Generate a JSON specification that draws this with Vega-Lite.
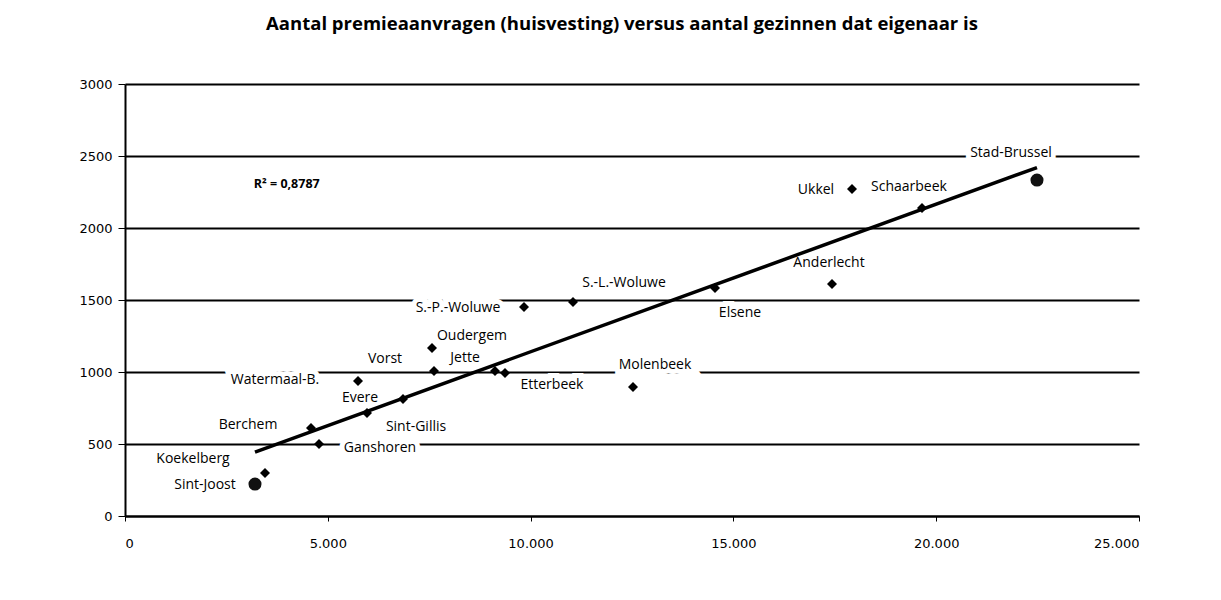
{
  "$schema": "https://vega.github.io/schema/vega-lite/v6.json",
  "width": 1014,
  "height": 432,
  "autosize": "none",
  "padding": {"left": 125, "top": 84, "right": 82, "bottom": 84},
  "background": "white",
  "title": {
    "text": "Aantal premieaanvragen (huisvesting) versus aantal gezinnen dat eigenaar is",
    "font": "Open Sans",
    "fontSize": 18.5,
    "fontWeight": "bold",
    "color": "black",
    "anchor": "middle",
    "offset": 45,
    "dx": -10
  },
  "config": {
    "view": {"stroke": null},
    "font": "Open Sans"
  },
  "data": {
    "values": [
      {"name": "Stad-Brussel", "x": 22485, "y": 2333, "lx": 21844, "ly": 2521, "big": true},
      {"name": "Ukkel", "x": 17924, "y": 2271, "lx": 17036, "ly": 2264, "big": false},
      {"name": "Schaarbeek", "x": 19650, "y": 2139, "lx": 19329, "ly": 2285, "big": false},
      {"name": "Anderlecht", "x": 17431, "y": 1611, "lx": 17357, "ly": 1757, "big": false},
      {"name": "Elsene", "x": 14546, "y": 1583, "lx": 15163, "ly": 1410, "big": false},
      {"name": "S.-L.-Woluwe", "x": 11045, "y": 1486, "lx": 12303, "ly": 1618, "big": false},
      {"name": "S.-P.-Woluwe", "x": 9837, "y": 1451, "lx": 8210, "ly": 1444, "big": false},
      {"name": "Oudergem", "x": 7569, "y": 1167, "lx": 8555, "ly": 1250, "big": false},
      {"name": "Vorst", "x": 7618, "y": 1007, "lx": 6410, "ly": 1090, "big": false},
      {"name": "Jette", "x": 9122, "y": 1007, "lx": 8383, "ly": 1097, "big": false},
      {"name": "Etterbeek", "x": 9369, "y": 993, "lx": 10527, "ly": 910, "big": false},
      {"name": "Molenbeek", "x": 12525, "y": 896, "lx": 13067, "ly": 1049, "big": false},
      {"name": "Watermaal-B.", "x": 5745, "y": 938, "lx": 3698, "ly": 944, "big": false},
      {"name": "Evere", "x": 5966, "y": 715, "lx": 5794, "ly": 819, "big": false},
      {"name": "Sint-Gillis", "x": 6854, "y": 813, "lx": 7175, "ly": 618, "big": false},
      {"name": "Berchem", "x": 4586, "y": 611, "lx": 3033, "ly": 632, "big": false},
      {"name": "Ganshoren", "x": 4783, "y": 500, "lx": 6287, "ly": 472, "big": false},
      {"name": "Koekelberg", "x": 3452, "y": 299, "lx": 1677, "ly": 396, "big": false},
      {"name": "Sint-Joost", "x": 3205, "y": 222, "lx": 1972, "ly": 215, "big": true}
    ]
  },
  "layer": [
    {
      "mark": {"type": "text", "align": "center", "baseline": "middle", "fontSize": 14, "stroke": "white", "strokeWidth": 10, "fill": "white"},
      "encoding": {
        "x": {
          "field": "lx", "type": "quantitative",
          "scale": {"domain": [0, 25000], "nice": false, "zero": true},
          "axis": {
            "title": null,
            "values": [0, 5000, 10000, 15000, 20000, 25000],
            "grid": false,
            "domainColor": "black",
            "domainWidth": 2,
            "tickColor": "black",
            "tickSize": 5,
            "labelPadding": 16,
            "labelFontSize": 13,
            "labelColor": "black",
            "labelFont": "DejaVu Sans",
            "labelExpr": "replace(format(datum.value, ','), ',', '.')"
          }
        },
        "y": {
          "field": "ly", "type": "quantitative",
          "scale": {"domain": [0, 3000], "nice": false},
          "axis": {
            "title": null,
            "values": [0, 500, 1000, 1500, 2000, 2500, 3000],
            "format": "d",
            "grid": true,
            "gridColor": "black",
            "gridWidth": 2,
            "gridOpacity": 1,
            "domainColor": "black",
            "domainWidth": 2,
            "tickColor": "black",
            "tickSize": 7,
            "labelPadding": 6,
            "labelFontSize": 13,
            "labelColor": "black",
            "labelFont": "DejaVu Sans"
          }
        },
        "text": {"field": "name"}
      }
    },
    {
      "data": {"values": [{"x": 3205, "y": 444}, {"x": 22485, "y": 2420}]},
      "mark": {"type": "line", "color": "black", "strokeWidth": 3.5},
      "encoding": {
        "x": {"field": "x", "type": "quantitative"},
        "y": {"field": "y", "type": "quantitative"}
      }
    },
    {
      "transform": [{"filter": "!datum.big"}],
      "mark": {"type": "point", "shape": "diamond", "filled": true, "color": "black", "size": 100, "opacity": 1},
      "encoding": {
        "x": {"field": "x", "type": "quantitative"},
        "y": {"field": "y", "type": "quantitative"}
      }
    },
    {
      "transform": [{"filter": "datum.big"}],
      "mark": {"type": "circle", "color": "#111", "size": 170, "opacity": 1},
      "encoding": {
        "x": {"field": "x", "type": "quantitative"},
        "y": {"field": "y", "type": "quantitative"}
      }
    },
    {
      "mark": {"type": "text", "align": "center", "baseline": "middle", "fontSize": 14, "color": "black"},
      "encoding": {
        "x": {"field": "lx", "type": "quantitative"},
        "y": {"field": "ly", "type": "quantitative"},
        "text": {"field": "name"}
      }
    },
    {
      "data": {"values": [{"label": "R² = 0,8787"}]},
      "mark": {"type": "text", "align": "left", "baseline": "middle", "fontSize": 12.5, "fontWeight": "bold", "color": "black"},
      "encoding": {
        "x": {"datum": 3175},
        "y": {"datum": 2303},
        "text": {"field": "label"}
      }
    }
  ]
}
